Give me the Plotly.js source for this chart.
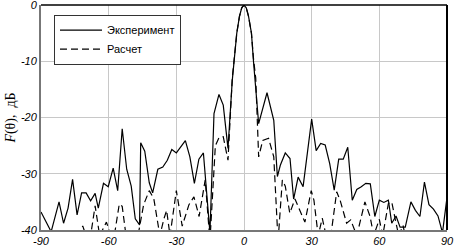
<!DOCTYPE html>
<html>
<head>
<meta charset="utf-8">
<script src="https://cdn.plot.ly/plotly-3.0.1.min.js"></script>
<style>html,body{margin:0;padding:0;background:#fff;}#chart{width:454px;height:247px;}</style>
</head>
<body>
<div id="chart"></div>
<script>
// Experiment (solid)
var expTheta = [-90,-85.5,-82,-80,-78,-76,-74,-72,-70,-68,-66,-64.6,-62.3,-60.2,-58,-56,-54,-52,-50,-48.2,-46.3,-45.8,-44,-42,-40.5,-38.2,-36,-34,-32,-30,-26,-24,-22,-20,-18,-15.1,-13.3,-11.1,-9.2,-7.1,-5.2,-4.3,-3.2,-2,-1,0,1,2,3.3,4.2,5,6.5,10.2,13.2,14.8,16.1,18.3,20.4,22,24,26.2,30,32,34,36,38,40,42,44,46,48,50,52,54,56,58,60,62,64,65.5,67.4,69.2,71.5,74,76,78,80,82,84,86,88,90];
var expDb = [-36.8,-40.3,-35,-38.8,-36.1,-31,-37.3,-33.4,-33.4,-34.8,-33.5,-36.1,-31.7,-32.3,-29,-33,-22,-29.2,-32.2,-38,-39.1,-24.5,-26,-31.6,-33.4,-29.2,-28.8,-27.6,-25.7,-26.3,-24.1,-27,-31.7,-27.4,-26.3,-40.5,-19.3,-15.9,-17.8,-25.5,-13.4,-10,-5,-2,-0.5,0,-0.5,-2,-5,-10,-13.4,-21.1,-15.6,-20.5,-30.5,-28.5,-26.3,-27.3,-34.5,-30.6,-32.3,-20.3,-25.9,-24.6,-24.9,-28.2,-32.9,-27.4,-27.4,-25.3,-34.7,-32.8,-32.3,-31.7,-31.8,-37.6,-34.7,-35.1,-34.7,-38.8,-37.5,-39.5,-39.5,-35,-36.5,-37.6,-31.5,-35.5,-36.3,-37.5,-40.5,-34.2];
// Calculation (dashed)
var calcTheta = [-90,-74,-71.5,-70,-68,-66,-64,-61,-59,-57.5,-55.3,-54,-52.3,-47,-44.5,-42,-40,-37.3,-35.5,-34.3,-32.8,-30,-27.4,-24.4,-22.2,-19.9,-17.2,-15.1,-12.7,-11.1,-9.2,-7.1,-5.2,-4.2,-3.2,-2,-1,0,1,2,3.3,4.2,5.2,6.5,8.3,10.9,13.2,15.1,17,18.3,20.3,22.6,24.8,27,29.8,31,32.9,34.7,36.4,38.5,41.1,42.6,45.5,47.3,50,53.6,55.9,57.5,60,61.5,64,65.5,67,68.6,70.5,72,90];
var calcDb = [-45,-42,-39.3,-41,-41,-35.7,-41,-38.6,-41,-41,-35.4,-35.8,-41,-41,-35.5,-33,-34.4,-41,-38,-36.5,-41,-33,-39.3,-35.5,-34.1,-37.6,-31.1,-42,-25,-23.6,-23.4,-27.6,-13,-9.5,-5,-2,-0.5,0,-0.5,-2,-5,-9.5,-13,-27,-24.1,-23.7,-27,-42,-31.1,-32.2,-37,-34.5,-36.4,-38.6,-33,-34.7,-41,-37.9,-41,-41,-33.2,-34.7,-38.8,-38.2,-41,-35,-37.6,-41,-38.1,-41,-35.3,-35,-38,-41,-39.2,-42,-45];

var seriesNames = ['Эксперимент', 'Расчет'];
var xTickVals = [-90,-60,-30,0,30,60,90];
var xTickText = ['-90','-60','-30','0','30','60','90'];
var yTickVals = [-40,-30,-20,-10,0];
var yTickText = ['-40','-30','-20','-10','0'];

var traces = [
  {x: expTheta, y: expDb, name: seriesNames[0], type: 'scatter', mode: 'lines',
   line: {color: '#000', width: 1.2}},
  {x: calcTheta, y: calcDb, name: seriesNames[1], type: 'scatter', mode: 'lines',
   line: {color: '#000', width: 1.2, dash: '7px,4px'}}
];

var tickFont = {family: 'Liberation Sans, Arial, sans-serif', size: 11, style: 'italic', color: '#000'};

var layout = {
  width: 454, height: 247,
  margin: {l: 41, r: 7, t: 5, b: 17, pad: 0},
  paper_bgcolor: '#fff', plot_bgcolor: '#fff',
  showlegend: true,
  legend: {
    x: 0.032, y: 0.957, xanchor: 'left', yanchor: 'top',
    bgcolor: '#fff', bordercolor: '#333', borderwidth: 1,
    font: {family: 'Liberation Sans, Arial, sans-serif', size: 11, color: '#000'},
    itemwidth: 42, tracegroupgap: 0
  },
  xaxis: {
    range: [-90, 90], tickvals: xTickVals, ticktext: xTickText,
    tickfont: tickFont, ticks: '', showgrid: true, gridcolor: '#c8c8c8', gridwidth: 1,
    zeroline: false, showline: true, linecolor: '#777', linewidth: 2,
    ticklabeloverflow: 'allow'
  },
  yaxis: {
    range: [-40, 0], tickvals: yTickVals, ticktext: yTickText,
    tickfont: tickFont, ticks: '', showgrid: true, gridcolor: '#c8c8c8', gridwidth: 1,
    zeroline: false, showline: true, linecolor: '#777', linewidth: 2,
    ticklabeloverflow: 'allow',
    title: {text: '<i>F</i>(θ),  дБ', font: {family: 'Liberation Serif, Times New Roman, serif', size: 14, color: '#000'}, standoff: 2}
  },
  shapes: [
    {type: 'line', xref: 'paper', yref: 'paper', x0: 0, x1: 1, y0: 1, y1: 1, line: {color: '#000', width: 1.5}},
    {type: 'line', xref: 'paper', yref: 'paper', x0: 1, x1: 1, y0: 0, y1: 1, line: {color: '#000', width: 2}}
  ]
};

Plotly.newPlot('chart', traces, layout, {displayModeBar: false, staticPlot: true});
</script>
</body>
</html>
